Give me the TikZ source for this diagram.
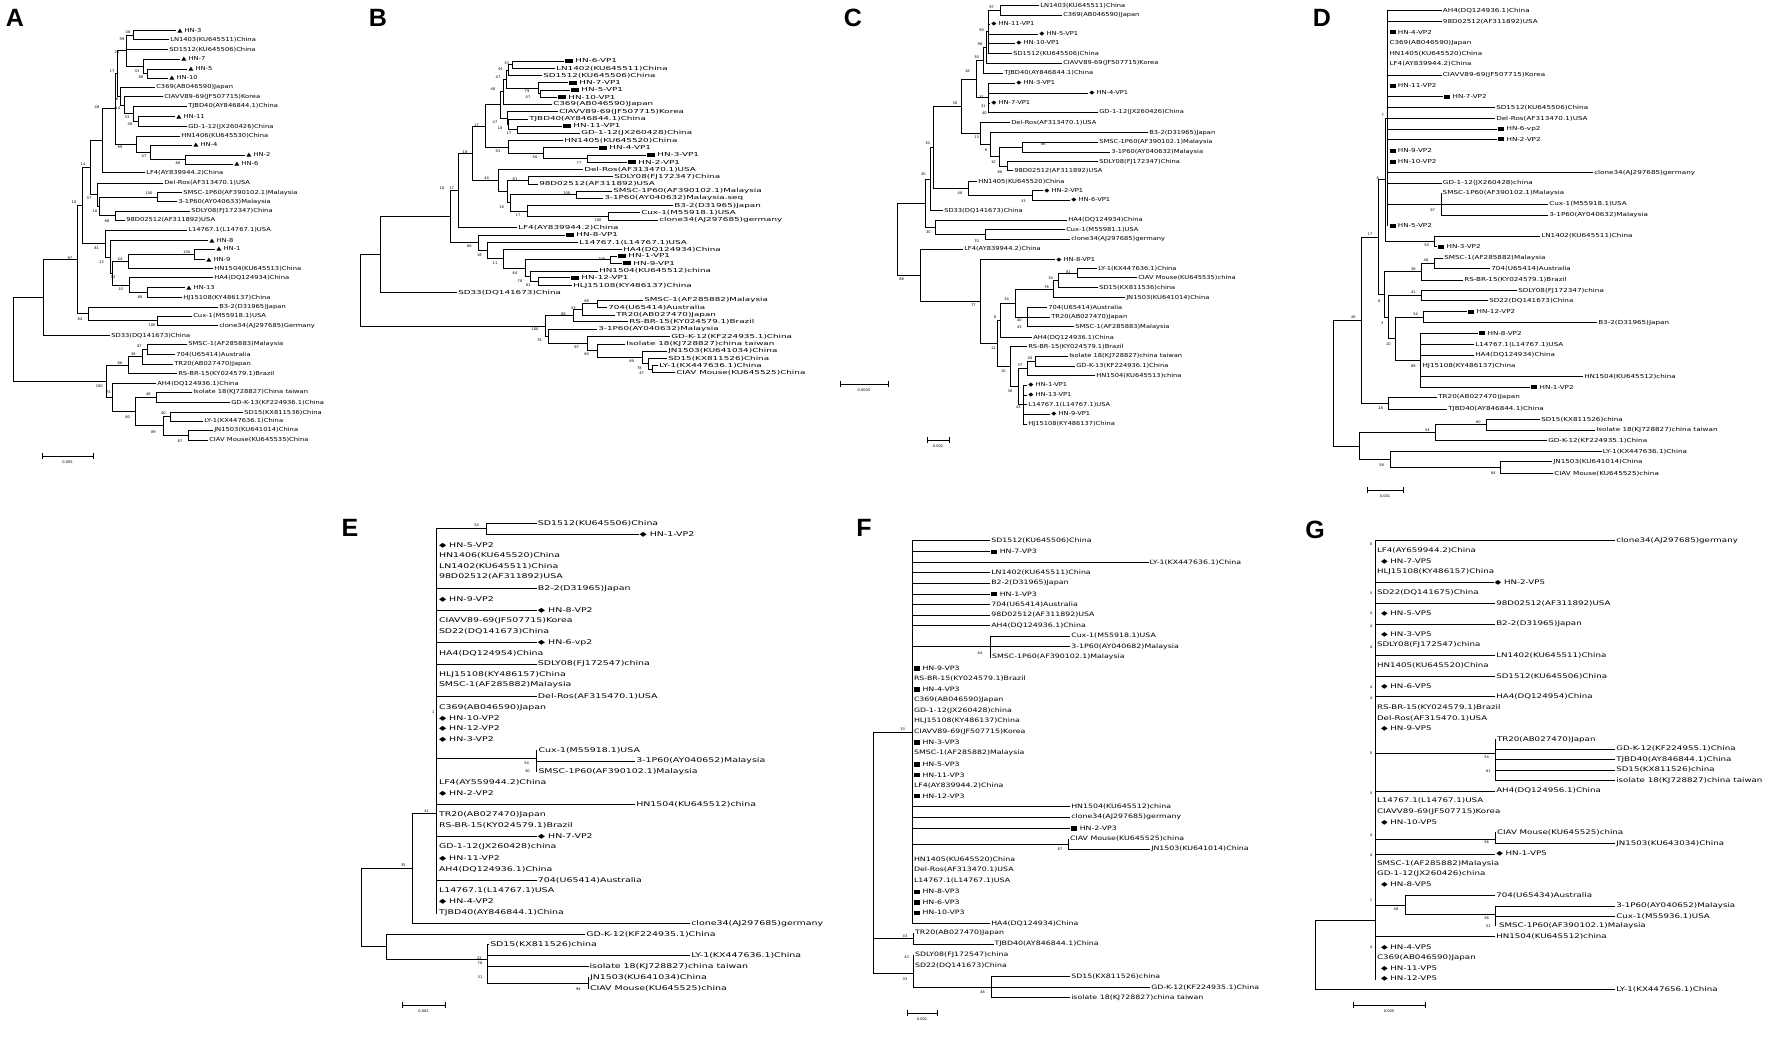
\documentclass[tikz,border=0pt]{standalone}
\usepackage{fontspec}
\usepackage{graphicx}
\setmainfont{DejaVu Sans}
\newfontfamily\arialf{Liberation Sans}
\tikzset{
  br/.style={line width=0.9pt, line cap=rect},
  lab/.style={anchor=west, inner sep=0.8pt, font=\labf},
  bsl/.style={inner sep=0pt, font=\fontsize{3.6}{4}\selectfont},
  plab/.style={inner sep=0pt, font=\arialf\bfseries\fontsize{25}{25}\selectfont},
  sclab/.style={inner sep=0pt, font=\fontsize{3.6}{4}\selectfont}
}
\def\labf{\fontsize{5.5}{6}\selectfont}
\def\hs{1.23}
\newcommand\rect{\rule[-0.2pt]{4.6pt}{4.2pt}}
\newcommand\Lf[4]{\draw[br] (#1,#3) -- (#2,#3) node[lab]{\scalebox{\hs}[1]{#4}};}
\newcommand\Tx[3]{\node[lab] at (#1,#2) {\scalebox{\hs}[1]{#3}};}
\newcommand\Vt[3]{\draw[br] (#1,#2) -- (#1,#3);}
\newcommand\Hz[3]{\draw[br] (#1,#3) -- (#2,#3);}
\newcommand\Bs[3]{\node[bsl] at (#1,#2) {#3};}
\newcommand\Sbar[4]{\draw[br] (#1,#3) -- (#2,#3); \draw[br] (#1,#3-2.5) -- (#1,#3+2.5); \draw[br] (#2,#3-2.5) -- (#2,#3+2.5); \node[sclab] at ({(#1+#2)/2},#3+6) {#4};}
\begin{document}
\begin{tikzpicture}[x=1pt,y=-1pt]
\useasboundingbox[fill=white] (0,0) rectangle (1772,1064);
% ================= A =================
\node[plab] (labA) at (15,18) {A};
\begin{scope}
\def\labf{\fontsize{5.5}{6}\selectfont}\def\hs{1.23}
\Lf{133}{176}{30.7}{▲ HN-3}
\Lf{133}{169}{39.3}{LN1403(KU645511)China}
\Vt{133}{30.7}{39.3}\Hz{126}{133}{35}
\Lf{126}{168}{49.3}{SD1512(KU645506)China}
\Lf{143}{180}{59.3}{▲ HN-7}
\Lf{147}{187}{69}{▲ HN-5}
\Lf{147}{168}{78.3}{▲ HN-10}
\Vt{147}{69}{78.3}\Hz{143}{147}{73.7}
\Vt{143}{59.3}{73.7}\Hz{126}{143}{66.5}
\Vt{126}{35}{66.5}\Hz{117}{126}{50.7}
\Lf{120}{155}{87.3}{C369(AB046590)Japan}
\Lf{124}{163}{96.7}{CIAVV89-69(JF507715)Korea}
\Lf{133}{187}{106}{TJBD40(AY846844.1)China}
\Lf{138}{175}{116.7}{▲ HN-11}
\Lf{138}{187}{126.7}{GD-1-12(JX260426)China}
\Vt{138}{116.7}{126.7}\Hz{133}{138}{121.7}
\Vt{133}{106}{121.7}\Hz{124}{133}{113.8}
\Vt{124}{96.7}{113.8}\Hz{120}{124}{105.3}
\Vt{120}{87.3}{105.3}\Hz{117}{120}{96.3}
\Vt{117}{50.7}{96.3}\Hz{115}{117}{73.5}
\Lf{136}{180}{136}{HN1406(KU645530)China}
\Lf{150}{192}{145}{▲ HN-4}
\Lf{185}{245}{155}{▲ HN-2}
\Lf{185}{233}{164}{▲ HN-6}
\Vt{185}{155}{164}\Hz{150}{185}{159.5}
\Vt{150}{145}{159.5}\Hz{136}{150}{152.3}
\Vt{136}{136}{152.3}\Hz{115}{136}{144}
\Vt{115}{73.5}{144}\Hz{102}{115}{108.8}
\Lf{102}{145}{172.7}{LF4(AY839944.2)China}
\Vt{102}{108.8}{172.7}\Hz{90}{102}{140.7}
\Lf{97}{163}{183}{Del-Ros(AF313470.1)USA}
\Lf{157}{182}{192.7}{SMSC-1P60(AF390102.1)Malaysia}
\Lf{157}{177}{201.7}{3-1P60(AY040633)Malaysia}
\Vt{157}{192.7}{201.7}\Hz{99}{157}{197.2}
\Lf{115}{190}{211}{SDLY08(FJ172347)China}
\Lf{115}{125}{220}{98D02512(AF311892)USA}
\Vt{115}{211}{220}\Hz{99}{115}{215.5}
\Vt{99}{197.2}{215.5}\Hz{97}{99}{206.4}
\Vt{97}{183}{206.4}\Hz{90}{97}{194.7}
\Vt{90}{140.7}{194.7}\Hz{82}{90}{167.7}
\Lf{105}{187}{230}{L14767.1(L14767.1)USA}
\Lf{110}{208}{240.7}{▲ HN-8}
\Lf{194}{215}{249.3}{▲ HN-1}
\Lf{194}{205}{259.3}{▲ HN-9}
\Vt{194}{249.3}{259.3}\Hz{128}{194}{254.3}
\Lf{128}{213}{268.7}{HN1504(KU645513)China}
\Vt{128}{254.3}{268.7}\Hz{112}{128}{261.5}
\Lf{129}{213}{277.7}{HA4(DQ124934)China}
\Lf{147}{185}{287.3}{▲ HN-13}
\Lf{147}{182}{297.7}{HJ15108(KY486137)China}
\Vt{147}{287.3}{297.7}\Hz{129}{147}{292.5}
\Vt{129}{277.7}{292.5}\Hz{112}{129}{285.1}
\Vt{112}{261.5}{285.1}\Hz{110}{112}{273.3}
\Vt{110}{240.7}{273.3}\Hz{105}{110}{257}
\Vt{105}{230}{257}\Hz{82}{105}{243.5}
\Vt{82}{167.7}{243.5}\Hz{77}{82}{205.6}
\Lf{88}{218}{307}{B3-2(D31965)Japan}
\Lf{157}{192}{316}{Cux-1(M55918.1)USA}
\Lf{157}{218}{325.7}{clone34(AJ297685)Germany}
\Vt{157}{316}{325.7}\Hz{88}{157}{320.8}
\Vt{88}{307}{320.8}\Hz{77}{88}{313.9}
\Vt{77}{205.6}{313.9}\Hz{43}{77}{259.8}
\Lf{43}{110}{335.7}{SD33(DQ141673)China}
\Vt{43}{259.8}{335.7}\Hz{13}{43}{297.7}
\Lf{147}{187}{344.3}{SMSC-1(AF285883)Malaysia}
\Lf{147}{175}{354.3}{704(U65414)Australia}
\Vt{147}{344.3}{354.3}\Hz{142}{147}{349.3}
\Lf{142}{173}{364}{TR20(AB027470)Japan}
\Vt{142}{349.3}{364}\Hz{128}{142}{356.7}
\Lf{128}{177}{373.3}{RS-BR-15(KY024579.1)Brazil}
\Vt{128}{356.7}{373.3}\Hz{106}{128}{365}
\Lf{112}{156}{383.3}{AH4(DQ124936.1)China}
\Lf{156}{192}{392.3}{Isolate 18(KJ728827)China taiwan}
\Lf{156}{230}{402.7}{GD-K-13(KF224936.1)China}
\Vt{156}{392.3}{402.7}\Hz{135}{156}{397.5}
\Lf{170}{243}{412.3}{SD15(KX811536)China}
\Lf{170}{203}{421}{LY-1(KX447636.1)China}
\Vt{170}{412.3}{421}\Hz{163}{170}{416.7}
\Lf{188}{213}{430}{JN1503(KU641014)China}
\Lf{188}{208}{440}{CIAV Mouse(KU645535)China}
\Vt{188}{430}{440}\Hz{163}{188}{435}
\Vt{163}{416.7}{435}\Hz{135}{163}{425.8}
\Vt{135}{397.5}{425.8}\Hz{112}{135}{411.7}
\Vt{112}{383.3}{411.7}\Hz{106}{112}{397.5}
\Vt{106}{365}{397.5}\Hz{13}{106}{381.3}
\Vt{13}{297.7}{381.3}
\Sbar{42}{93}{456}{0.005}
\Bs{128}{32.3}{48}\Bs{122}{39}{99}\Bs{117}{51.7}{21}\Bs{137}{71}{33}\Bs{141}{77.3}{88}
\Bs{112}{70.7}{17}\Bs{117}{99}{8}\Bs{118}{108}{14}\Bs{127}{117}{33}\Bs{130}{124}{48}
\Bs{120}{146.7}{99}\Bs{144}{156}{47}\Bs{178}{163.3}{88}\Bs{97}{107}{48}\Bs{83}{164}{14}
\Bs{89}{198}{37}\Bs{149}{193}{100}\Bs{95}{211}{10}\Bs{107}{221}{88}\Bs{74}{202}{10}
\Bs{96.7}{248.3}{81}\Bs{70}{258.3}{97}\Bs{186.7}{252}{100}\Bs{120}{258.7}{44}\Bs{113}{276.7}{33}
\Bs{101.7}{261.7}{22}\Bs{120.7}{289.3}{10}\Bs{140}{296.7}{88}\Bs{80}{319.3}{84}\Bs{152}{325}{100}
\Bs{139.3}{346}{87}\Bs{133.3}{354}{36}\Bs{120}{362.7}{86}\Bs{99.3}{385.7}{100}\Bs{108.3}{392.3}{73}
\Bs{148.3}{394.3}{46}\Bs{127.7}{417.3}{80}\Bs{163.3}{413.3}{40}\Bs{153.3}{431.7}{89}\Bs{180}{440.7}{87}
\end{scope}
% ================= B =================
\node[plab] (labB) at (378,18) {B};
\begin{scope}
\def\labf{\fontsize{5.5}{6}\selectfont}\def\hs{1.6}
\Lf{512.7}{564}{61}{\rect\ HN-6-VP1}
\Lf{512.7}{555}{68.3}{LN1402(KU645511)China}
\Vt{512.7}{61}{68.3}\Hz{508}{512.7}{64.7}
\Lf{508}{542}{75.7}{SD1512(KU645506)China}
\Vt{508}{64.7}{75.7}\Hz{506}{508}{70.2}
\Lf{538}{568}{82.7}{\rect\ HN-7-VP1}
\Lf{540}{570}{90}{\rect\ HN-5-VP1}
\Lf{540}{557}{97.3}{\rect\ HN-10-VP1}
\Vt{540}{90}{97.3}\Hz{538}{540}{93.7}
\Vt{538}{82.7}{93.7}\Hz{506}{538}{88.2}
\Vt{506}{70.2}{88.2}\Hz{503}{506}{79.2}
\Lf{503}{552}{104.3}{C369(AB046590)Japan}
\Vt{503}{79.2}{104.3}\Hz{500}{503}{91.8}
\Lf{507}{558}{111.7}{CIAVV89-69(JF507715)Korea}
\Lf{508}{528}{119}{TJBD40(AY846844.1)China}
\Lf{517}{562}{126}{\rect\ HN-11-VP1}
\Lf{517}{580}{133.3}{GD-1-12(JX260428)China}
\Vt{517}{126}{133.3}\Hz{508}{517}{129.7}
\Vt{508}{119}{129.7}\Hz{507}{508}{124.3}
\Vt{507}{111.7}{124.3}\Hz{500}{507}{118}
\Vt{500}{91.8}{118}\Hz{485}{500}{104.9}
\Lf{508}{563}{140.7}{HN1405(KU645520)China}
\Lf{543}{598}{147.7}{\rect\ HN-4-VP1}
\Lf{587}{646}{155}{\rect\ HN-3-VP1}
\Lf{587}{627}{162.3}{\rect\ HN-2-VP1}
\Vt{587}{155}{162.3}\Hz{543}{587}{158.7}
\Vt{543}{147.7}{158.7}\Hz{508}{543}{153.2}
\Vt{508}{140.7}{153.2}\Hz{485}{508}{147}
\Vt{485}{104.9}{147}\Hz{472}{485}{126}
\Lf{498}{583}{169.3}{Del-Ros(AF313470.1)USA}
\Lf{528}{613}{176.7}{SDLY08(FJ172347)China}
\Lf{528}{538}{184}{98D02512(AF311892)USA}
\Vt{528}{176.7}{184}\Hz{507}{528}{180.4}
\Lf{576}{612}{191}{SMSC-1P60(AF390102.1)Malaysia}
\Lf{576}{603}{198.3}{3-1P60(AY040632)Malaysia.seq}
\Vt{576}{191}{198.3}\Hz{510}{576}{194.7}
\Lf{527}{673}{205.7}{B3-2(D31965)Japan}
\Lf{608}{640}{212.7}{Cux-1(M55918.1)USA}
\Lf{608}{658}{220}{clone34(AJ297685)germany}
\Vt{608}{212.7}{220}\Hz{527}{608}{216.3}
\Vt{527}{205.7}{216.3}\Hz{510}{527}{211}
\Vt{510}{194.7}{211}\Hz{507}{510}{202.9}
\Vt{507}{180.4}{202.9}\Hz{498}{507}{191.6}
\Vt{498}{169.3}{191.6}\Hz{472}{498}{180.5}
\Vt{472}{126}{180.5}\Hz{458}{472}{153.2}
\Lf{458}{517}{227.7}{LF4(AY839944.2)China}
\Vt{458}{153.2}{227.7}\Hz{450}{458}{190.5}
\Lf{478}{565}{235}{\rect\ HN-8-VP1}
\Lf{487}{578}{242.3}{L14767.1(L14767.1)USA}
\Lf{503}{622}{249.3}{HA4(DQ124934)China}
\Lf{610}{617}{256}{\rect\ HN-1-VP1}
\Lf{610}{622}{263.3}{\rect\ HN-9-VP1}
\Vt{610}{256}{263.3}\Hz{525}{610}{259.7}
\Lf{530}{598}{271}{HN1504(KU645512)china}
\Lf{538}{570}{277.7}{\rect\ HN-12-VP1}
\Lf{538}{572}{285.7}{HLJ15108(KY486137)China}
\Vt{538}{277.7}{285.7}\Hz{530}{538}{281.7}
\Vt{530}{271}{281.7}\Hz{525}{530}{276.3}
\Vt{525}{259.7}{276.3}\Hz{503}{525}{268}
\Vt{503}{249.3}{268}\Hz{487}{503}{258.7}
\Vt{487}{242.3}{258.7}\Hz{478}{487}{250.5}
\Vt{478}{235}{250.5}\Hz{450}{478}{242.7}
\Vt{450}{190.5}{242.7}\Hz{380}{450}{216.6}
\Lf{380}{457}{292.7}{SD33(DQ141673)China}
\Vt{380}{216.6}{292.7}\Hz{360}{380}{254.7}
\Lf{597}{643}{300}{SMSC-1(AF285882)Malaysia}
\Lf{597}{607}{307.3}{704(U65414)Australia}
\Vt{597}{300}{307.3}\Hz{582}{597}{303.7}
\Lf{582}{615}{315}{TR20(AB027470)Japan}
\Vt{582}{303.7}{315}\Hz{573}{582}{309.3}
\Lf{573}{628}{321.7}{RS-BR-15(KY024579.1)Brazil}
\Vt{573}{309.3}{321.7}\Hz{545}{573}{315.5}
\Lf{548}{597}{329.3}{3-1P60(AY040632)Malaysia}
\Lf{587}{670}{336.7}{GD-K-12(KF224935.1)China}
\Lf{597}{625}{344}{Isolate 18(KJ728827)china taiwan}
\Lf{642}{667}{351}{JN1503(KU641034)China}
\Lf{648}{667}{358.3}{SD15(KX811526)China}
\Lf{652}{658}{365.7}{LY-1(KX447636.1)China}
\Lf{652}{675}{372.7}{CIAV Mouse(KU645525)China}
\Vt{652}{365.7}{372.7}\Hz{648}{652}{369.2}
\Vt{648}{358.3}{369.2}\Hz{642}{648}{363.8}
\Vt{642}{351}{363.8}\Hz{597}{642}{357.4}
\Vt{597}{344}{357.4}\Hz{587}{597}{350.7}
\Vt{587}{336.7}{350.7}\Hz{548}{587}{343.7}
\Vt{548}{329.3}{343.7}\Hz{545}{548}{336.5}
\Vt{545}{315.5}{336.5}\Hz{360}{545}{326}
\Vt{360}{254.7}{326}
\Sbar{840}{888}{384}{0.0005}
\Bs{506.7}{62.7}{33}\Bs{500.7}{69.3}{91}\Bs{498}{76.7}{47}\Bs{527}{90.7}{79}\Bs{528}{97.3}{47}
\Bs{493}{89.3}{48}\Bs{509}{132.7}{17}\Bs{500}{127.7}{18}\Bs{495}{121.7}{47}\Bs{476.7}{125}{17}
\Bs{579}{163.3}{77}\Bs{535}{156.7}{50}\Bs{498}{150.7}{91}\Bs{515}{179.3}{81}\Bs{566.7}{192.7}{100}
\Bs{598}{220}{100}\Bs{518}{215}{17}\Bs{501.7}{206.7}{18}\Bs{486.7}{178.3}{44}\Bs{465}{151.7}{18}
\Bs{451.7}{188.3}{17}\Bs{469.3}{246}{66}\Bs{479.3}{255}{18}\Bs{495}{263.3}{11}\Bs{515}{272.7}{64}
\Bs{520}{280.7}{78}\Bs{528.3}{285}{61}\Bs{601.7}{259.3}{100}\Bs{586.7}{301}{88}\Bs{573.3}{307.7}{53}
\Bs{563.3}{314}{88}\Bs{535}{329.3}{100}\Bs{539.3}{340}{78}\Bs{576.7}{346.7}{97}\Bs{586.7}{354.3}{80}
\Bs{631.7}{361}{89}\Bs{639.3}{367.7}{78}\Bs{641.7}{373.3}{47}\Bs{442}{188}{18}
\end{scope}
% ================= C =================
\node[plab] (labC) at (853,18) {C};
\begin{scope}
\def\labf{\fontsize{5.5}{6}\selectfont}\def\hs{1.22}
\Lf{1000.7}{1039}{5.7}{LN1403(KU645511)China}
\Lf{1000.7}{1062}{15}{C369(AB046590)Japan}
\Vt{1000.7}{5.7}{15}\Hz{988}{1000.7}{10.3}
\Lf{988}{990}{24.3}{◆ HN-11-VP1}
\Lf{988}{1038}{34.3}{◆ HN-5-VP1}
\Lf{988}{1015}{43.3}{◆ HN-10-VP1}
\Lf{988}{1012}{53.3}{SD1512(KU645506)China}
\Vt{988}{10.3}{53.3}\Hz{986}{988}{31.8}
\Lf{986}{1062}{63.3}{CIAVV89-69(JF507715)Korea}
\Vt{986}{31.8}{63.3}\Hz{983}{986}{47.6}
\Lf{983}{1003}{73.3}{TJBD40(AY846844.1)China}
\Vt{983}{47.6}{73.3}\Hz{976}{983}{60.5}
\Lf{988}{1015}{83.3}{◆ HN-3-VP1}
\Lf{988}{1088}{93.3}{◆ HN-4-VP1}
\Lf{988}{990}{103.3}{◆ HN-7-VP1}
\Lf{988}{1098}{112.3}{GD-1-12(JX260426)China}
\Vt{988}{83.3}{112.3}\Hz{976}{988}{97.8}
\Vt{976}{60.5}{97.8}\Hz{961}{976}{79.2}
\Lf{980}{1010}{122.7}{Del-Ros(AF313470.1)USA}
\Lf{990}{1148}{132.7}{B3-2(D31965)Japan}
\Lf{1022}{1098}{142.3}{SMSC-1P60(AF390102.1)Malaysia}
\Lf{1022}{1110}{152.3}{3-1P60(AY040632)Malaysia}
\Vt{1022}{142.3}{152.3}\Hz{999}{1022}{147.3}
\Lf{1007}{1098}{161.7}{SDLY08(FJ172347)China}
\Lf{1007}{1013}{170.7}{98D02512(AF311892)USA}
\Vt{1007}{161.7}{170.7}\Hz{999}{1007}{166.2}
\Vt{999}{147.3}{166.2}\Hz{990}{999}{156.8}
\Vt{990}{132.7}{156.8}\Hz{980}{990}{144.7}
\Vt{980}{122.7}{144.7}\Hz{961}{980}{133.7}
\Vt{961}{79.2}{133.7}\Hz{933}{961}{106.5}
\Lf{968}{977}{181.7}{HN1405(KU645520)China}
\Lf{1032}{1043}{190.7}{◆ HN-2-VP1}
\Lf{1032}{1070}{200}{◆ HN-6-VP1}
\Vt{1032}{190.7}{200}\Hz{968}{1032}{195.3}
\Vt{968}{181.7}{195.3}\Hz{933}{968}{188.5}
\Vt{933}{106.5}{188.5}\Hz{930}{933}{147.5}
\Lf{930}{943}{210.7}{SD33(DQ141673)China}
\Vt{930}{147.5}{210.7}\Hz{925}{930}{179.1}
\Lf{935}{1067}{220}{HA4(DQ124934)China}
\Lf{985}{1065}{229.3}{Cux-1(M55981.1)USA}
\Lf{985}{1070}{239.3}{clone34(AJ297685)germany}
\Vt{985}{229.3}{239.3}\Hz{935}{985}{234.3}
\Vt{935}{220}{234.3}\Hz{925}{935}{227.2}
\Vt{925}{179.1}{227.2}\Hz{897}{925}{203.1}
\Lf{920}{963}{249}{LF4(AY839944.2)China}
\Lf{980}{1055}{259.3}{◆ HN-8-VP1}
\Lf{1077}{1097}{268.3}{LY-1(KX447636.1)China}
\Lf{1077}{1137}{277.7}{CIAV Mouse(KU645535)china}
\Vt{1077}{268.3}{277.7}\Hz{1058}{1077}{273}
\Lf{1058}{1098}{287.7}{SD15(KX811536)china}
\Vt{1058}{273}{287.7}\Hz{1053}{1058}{280.3}
\Lf{1053}{1125}{297.7}{JN1503(KU641014)China}
\Vt{1053}{280.3}{297.7}\Hz{1015}{1053}{289}
\Lf{1027}{1047}{307.3}{704(U65414)Australia}
\Lf{1027}{1050}{317.3}{TR20(AB027470)Japan}
\Lf{1027}{1074}{326.7}{SMSC-1(AF285883)Malaysia}
\Vt{1027}{307.3}{326.7}\Hz{1015}{1027}{317}
\Vt{1015}{289}{317}\Hz{1000}{1015}{303}
\Lf{1000}{1032}{337.3}{AH4(DQ124936.1)China}
\Vt{1000}{303}{337.3}\Hz{997}{1000}{320.2}
\Lf{1010}{1027}{346.7}{RS-BR-15(KY024579.1)Brazil}
\Lf{1035}{1068}{356}{Isolate 18(KJ728827)china taiwan}
\Lf{1035}{1075}{366}{GD-K-13(KF224936.1)China}
\Vt{1035}{356}{366}\Hz{1027}{1035}{361}
\Lf{1027}{1095}{375.7}{HN1504(KU645513)china}
\Vt{1027}{361}{375.7}\Hz{1018}{1027}{368.3}
\Lf{1023}{1027}{385}{◆ HN-1-VP1}
\Lf{1023}{1027}{395}{◆ HN-13-VP1}
\Lf{1023}{1027}{404.3}{L14767.1(L14767.1)USA}
\Lf{1023}{1050}{414}{◆ HN-9-VP1}
\Lf{1023}{1027}{424}{HJ15108(KY486137)China}
\Vt{1023}{385}{424}\Hz{1018}{1023}{404.5}
\Vt{1018}{368.3}{404.5}\Hz{1010}{1018}{386.4}
\Vt{1010}{346.7}{386.4}\Hz{997}{1010}{366.5}
\Vt{997}{320.2}{366.5}\Hz{980}{997}{343.4}
\Vt{980}{259.3}{343.4}\Hz{920}{980}{301.3}
\Vt{920}{249}{301.3}\Hz{897}{920}{275.2}
\Vt{897}{203.1}{275.2}
\Sbar{927}{949}{440}{0.002}
\Bs{991.7}{7.3}{97}\Bs{981.7}{30}{93}\Bs{980}{44}{98}\Bs{976.7}{57.3}{30}\Bs{967.3}{71}{18}
\Bs{981.7}{97.3}{31}\Bs{983.3}{106}{31}\Bs{984.3}{113.3}{40}\Bs{955}{102.7}{30}\Bs{1043.3}{144}{86}
\Bs{1000}{171.7}{86}\Bs{993.3}{162.3}{10}\Bs{986}{150}{8}\Bs{976.7}{136.7}{13}\Bs{960}{192.7}{48}
\Bs{1023.3}{200.7}{33}\Bs{927.7}{143.3}{30}\Bs{923.3}{174}{30}\Bs{976.7}{240.7}{70}\Bs{928.3}{231.7}{30}
\Bs{1068.3}{271.7}{81}\Bs{1050.7}{278.3}{34}\Bs{1046.7}{287.3}{76}\Bs{1019.3}{320}{40}\Bs{1019.3}{327.3}{43}
\Bs{1006.7}{299}{34}\Bs{995}{316.7}{8}\Bs{1030}{357.7}{40}\Bs{1020}{365}{37}\Bs{1018.3}{406.7}{43}
\Bs{1010}{390.7}{36}\Bs{1003.3}{370.7}{10}\Bs{993.3}{347.7}{12}\Bs{973.3}{305}{77}\Bs{901.7}{279.3}{88}
\end{scope}
% ================= D =================
\node[plab] (labD) at (1322,18) {D};
\begin{scope}
\def\labf{\fontsize{5.5}{6}\selectfont}\def\hs{1.31}
\Lf{1387.7}{1441.7}{10.7}{AH4(DQ124936.1)China}
\Lf{1387.7}{1441.7}{21.7}{98D02512(AF311892)USA}
\Tx{1388.5}{32.3}{\rect\ HN-4-VP2}
\Tx{1388.5}{42.7}{C369(AB046590)Japan}
\Tx{1388.5}{53.3}{HN1405(KU645520)China}
\Tx{1388.5}{64}{LF4(AY839944.2)China}
\Lf{1387.7}{1441.7}{75}{CIAVV89-69(JF507715)Korea}
\Tx{1388.5}{86}{\rect\ HN-11-VP2}
\Lf{1387.7}{1443}{96.7}{\rect\ HN-7-VP2}
\Lf{1387.7}{1495}{107.3}{SD1512(KU645506)China}
\Lf{1387.7}{1495}{118.3}{Del-Ros(AF313470.1)USA}
\Lf{1387.7}{1497}{129.3}{\rect\ HN-6-vp2}
\Lf{1387.7}{1497}{139.3}{\rect\ HN-2-VP2}
\Tx{1388.5}{150.7}{\rect\ HN-9-VP2}
\Tx{1388.5}{161.7}{\rect\ HN-10-VP2}
\Lf{1387.7}{1593}{172.7}{clone34(AJ297685)germany}
\Lf{1387.7}{1441.7}{183.3}{GD-1-12(JX260428)china}
\Hz{1387.7}{1441.7}{204}
\Tx{1441.7}{193.3}{SMSC-1P60(AF390102.1)Malaysia}
\Lf{1441.7}{1548}{204}{Cux-1(M55918.1)USA}
\Lf{1441.7}{1548}{215}{3-1P60(AY040632)Malaysia}
\Vt{1441.7}{193.3}{215}
\Tx{1388.5}{226}{\rect\ HN-5-VP2}
\Vt{1387.7}{10.7}{226}\Hz{1385}{1387.7}{118.3}
\Lf{1434}{1540}{236}{LN1402(KU645511)China}
\Lf{1434}{1437}{246.7}{\rect\ HN-3-VP2}
\Vt{1434}{236}{246.7}\Hz{1385}{1434}{241.3}
\Vt{1385}{118.3}{241.3}\Hz{1378}{1385}{179.8}
\Lf{1434}{1443}{258.3}{SMSC-1(AF285882)Malaysia}
\Lf{1434}{1490}{268.3}{704(U65414)Australia}
\Vt{1434}{258.3}{268.3}\Hz{1421.7}{1434}{263.3}
\Lf{1421.7}{1463}{280}{RS-BR-15(KY024579.1)Brazil}
\Vt{1421.7}{263.3}{280}\Hz{1384}{1421.7}{271.7}
\Lf{1421.7}{1517}{290.7}{SDLY08(FJ172347)china}
\Lf{1421.7}{1488}{300.7}{SD22(DQ141673)China}
\Vt{1421.7}{290.7}{300.7}\Hz{1388}{1421.7}{295.7}
\Lf{1423}{1467}{311.7}{\rect\ HN-12-VP2}
\Lf{1423}{1597}{322.7}{B3-2(D31965)Japan}
\Vt{1423}{311.7}{322.7}\Hz{1395.7}{1423}{317.2}
\Lf{1420.7}{1478}{333.3}{\rect\ HN-8-VP2}
\Lf{1420.7}{1474}{344.3}{L14767.1(L14767.1)USA}
\Lf{1420.7}{1474}{355}{HA4(DQ124934)China}
\Tx{1421.5}{365.7}{HJ15108(KY486137)China}
\Lf{1420.7}{1583}{376.7}{HN1504(KU645512)china}
\Lf{1420.7}{1530}{387.3}{\rect\ HN-1-VP2}
\Vt{1420.7}{333.3}{387.3}\Hz{1395.7}{1420.7}{360.3}
\Vt{1395.7}{317.2}{360.3}\Hz{1388}{1395.7}{338.8}
\Vt{1388}{295.7}{338.8}\Hz{1384}{1388}{317.2}
\Vt{1384}{271.7}{317.2}\Hz{1378}{1384}{294.5}
\Vt{1378}{179.8}{294.5}\Hz{1361}{1378}{237.2}
\Lf{1388}{1437}{397.3}{TR20(AB027470)Japan}
\Lf{1388}{1447}{409}{TJBD40(AY846844.1)China}
\Vt{1388}{397.3}{409}\Hz{1361}{1388}{403.2}
\Vt{1361}{237.2}{403.2}\Hz{1333.3}{1361}{320.2}
\Lf{1486}{1540}{419.3}{SD15(KX811526)china}
\Lf{1486}{1595}{430}{Isolate 18(KJ728827)china taiwan}
\Vt{1486}{419.3}{430}\Hz{1435}{1486}{424.7}
\Lf{1435}{1547}{440.7}{GD-K-12(KF224935.1)China}
\Vt{1435}{424.7}{440.7}\Hz{1359}{1435}{432.7}
\Lf{1390.7}{1601.7}{451.7}{LY-1(KX447636.1)China}
\Lf{1500}{1552}{461.7}{JN1503(KU641014)China}
\Lf{1500}{1553}{473.3}{CIAV Mouse(KU645525)china}
\Vt{1500}{461.7}{473.3}\Hz{1390.7}{1500}{467.5}
\Vt{1390.7}{451.7}{467.5}\Hz{1359}{1390.7}{459.6}
\Vt{1359}{432.7}{459.6}\Hz{1333.3}{1359}{446.2}
\Vt{1333.3}{320.2}{446.2}
\Sbar{1367}{1403}{490}{0.001}
\Bs{1426.7}{245}{50}\Bs{1426}{260}{48}\Bs{1413.3}{269}{36}\Bs{1413.3}{292.3}{41}\Bs{1415.7}{314.3}{54}
\Bs{1388.3}{344}{10}\Bs{1382.3}{323.3}{3}\Bs{1379.3}{300.7}{8}\Bs{1413.3}{366}{88}\Bs{1370}{234}{17}
\Bs{1380.7}{408.3}{28}\Bs{1353.3}{317.3}{26}\Bs{1478.3}{421.7}{60}\Bs{1427.3}{430}{54}\Bs{1381.7}{465}{58}
\Bs{1493.3}{472.7}{84}\Bs{1382.7}{115}{7}\Bs{1377.7}{177.7}{6}\Bs{1432.7}{210}{97}
\end{scope}
% ================= E =================
\node[plab] (labE) at (350,528) {E};
\begin{scope}
\def\labf{\fontsize{6.5}{7}\selectfont}\def\hs{1.45}
\Lf{486}{536.7}{523.3}{SD1512(KU645506)China}
\Lf{486}{638.3}{534.3}{◆ HN-1-VP2}
\Vt{486}{523.3}{534.3}\Hz{436.7}{486}{528.8}
\Tx{438}{545}{◆ HN-5-VP2}
\Tx{438}{555.7}{HN1406(KU645520)China}
\Tx{438}{566.7}{LN1402(KU645511)China}
\Tx{438}{576.7}{98D02512(AF311892)USA}
\Lf{436.7}{536.7}{588.3}{B2-2(D31965)Japan}
\Tx{438}{599.3}{◆ HN-9-VP2}
\Lf{436.7}{536.7}{610}{◆ HN-8-VP2}
\Tx{438}{620.7}{CIAVV89-69(JF507715)Korea}
\Tx{438}{631}{SD22(DQ141673)China}
\Lf{436.7}{536.7}{642.7}{◆ HN-6-vp2}
\Tx{438}{653.3}{HA4(DQ124954)China}
\Lf{436.7}{536.7}{664}{SDLY08(FJ172547)china}
\Tx{438}{674.3}{HLJ15108(KY486157)China}
\Tx{438}{685}{SMSC-1(AF285882)Malaysia}
\Lf{436.7}{536.7}{696.7}{Del-Ros(AF315470.1)USA}
\Tx{438}{707.3}{C369(AB046590)Japan}
\Tx{438}{718.3}{◆ HN-10-VP2}
\Tx{438}{728.3}{◆ HN-12-VP2}
\Tx{438}{739.3}{◆ HN-3-VP2}
\Hz{436.7}{536.7}{758.3}
\Vt{536.7}{750}{771.7}
\Tx{537.5}{750}{Cux-1(M55918.1)USA}
\Lf{536.7}{635}{761}{3-1P60(AY040652)Malaysia}
\Tx{537.5}{771.7}{SMSC-1P60(AF390102.1)Malaysia}
\Tx{438}{782.7}{LF4(AY559944.2)China}
\Tx{438}{793.3}{◆ HN-2-VP2}
\Lf{436.7}{635}{804.3}{HN1504(KU645512)china}
\Tx{438}{815}{TR20(AB027470)Japan}
\Tx{438}{825.7}{RS-BR-15(KY024579.1)Brazil}
\Lf{436.7}{536.7}{836.7}{◆ HN-7-VP2}
\Tx{438}{846.7}{GD-1-12(JX260428)china}
\Tx{438}{858.3}{◆ HN-11-VP2}
\Tx{438}{869}{AH4(DQ124936.1)China}
\Lf{436.7}{536.7}{880}{704(U65414)Australia}
\Tx{438}{890}{L14767.1(L14767.1)USA}
\Tx{438}{901}{◆ HN-4-VP2}
\Tx{438}{912.3}{TJBD40(AY846844.1)China}
\Vt{436.7}{528.8}{914}\Hz{412.3}{436.7}{813.3}
\Lf{412.3}{690}{923.3}{clone34(AJ297685)germany}
\Vt{412.3}{813.3}{923.3}\Hz{361.7}{412.3}{868.3}
\Lf{386.7}{585}{934}{GD-K-12(KF224935.1)China}
\Lf{487.3}{489}{944.3}{SD15(KX811526)china}
\Lf{487.3}{690}{955}{LY-1(KX447636.1)China}
\Lf{487.3}{588.3}{966.7}{isolate 18(KJ728827)china taiwan}
\Tx{589}{977.7}{JN1503(KU641034)China}
\Tx{589}{988.3}{CIAV Mouse(KU645525)china}
\Vt{588.3}{977.7}{988.3}\Hz{487.3}{588.3}{983}
\Vt{487.3}{944.3}{983}\Hz{386.7}{487.3}{959.3}
\Vt{386.7}{934}{959.3}\Hz{361.7}{386.7}{946.7}
\Vt{361.7}{868.3}{946.7}
\Sbar{402}{445}{1005}{0.002}
\Bs{476.7}{525}{54}\Bs{433.3}{711.7}{1}\Bs{426.7}{810.7}{41}\Bs{403.3}{865}{35}\Bs{526.7}{763.3}{54}
\Bs{527.3}{770.7}{30}\Bs{479.3}{957.7}{22}\Bs{480}{963.3}{78}\Bs{480}{977.3}{31}\Bs{578.3}{989.3}{94}
\end{scope}
% ================= F =================
\node[plab] (labF) at (864,528) {F};
\begin{scope}
\def\labf{\fontsize{6}{6.5}\selectfont}\def\hs{1.31}
\Lf{912.3}{990}{540.7}{SD1512(KU645506)China}
\Lf{912.3}{990}{551.7}{\rect\ HN-7-VP3}
\Lf{912.3}{1148.3}{562.3}{LY-1(KX447636.1)China}
\Lf{912.3}{990}{572.7}{LN1402(KU645511)China}
\Lf{912.3}{990}{583.3}{B2-2(D31965)Japan}
\Lf{912.3}{990}{594}{\rect\ HN-1-VP3}
\Lf{912.3}{990}{604.3}{704(U65414)Australia}
\Lf{912.3}{990}{615}{98D02512(AF311892)USA}
\Lf{912.3}{990}{625.7}{AH4(DQ124936.1)China}
\Hz{912.3}{990}{646.7}
\Vt{990}{636}{657.3}
\Lf{990}{1070}{636}{Cux-1(M55918.1)USA}
\Lf{990}{1070}{646.7}{3-1P60(AY040682)Malaysia}
\Tx{991}{657.3}{SMSC-1P60(AF390102.1)Malaysia}
\Tx{913}{668.3}{\rect\ HN-9-VP3}
\Tx{913}{678.3}{RS-BR-15(KY024579.1)Brazil}
\Tx{913}{689.3}{\rect\ HN-4-VP3}
\Tx{913}{700}{C369(AB046590)Japan}
\Tx{913}{710.7}{GD-1-12(JX260428)china}
\Tx{913}{721}{HLJ15108(KY486137)China}
\Tx{913}{731.7}{CIAVV89-69(JF507715)Korea}
\Tx{913}{742.3}{\rect\ HN-3-VP3}
\Tx{913}{752.7}{SMSC-1(AF285882)Malaysia}
\Tx{913}{764.3}{\rect\ HN-5-VP3}
\Tx{913}{775}{\rect\ HN-11-VP3}
\Tx{913}{785.7}{LF4(AY839944.2)China}
\Tx{913}{796}{\rect\ HN-12-VP3}
\Lf{912.3}{1070}{806.7}{HN1504(KU645512)china}
\Lf{912.3}{1070}{817.3}{clone34(AJ297685)germany}
\Lf{912.3}{1070}{828.3}{\rect\ HN-2-VP3}
\Hz{912.3}{1068.3}{844}
\Vt{1068.3}{839}{849.3}
\Tx{1069}{839}{CIAV Mouse(KU645525)china}
\Lf{1068.3}{1150}{849.3}{JN1503(KU641014)China}
\Tx{913}{860}{HN1405(KU645520)China}
\Tx{913}{870}{Del-Ros(AF313470.1)USA}
\Tx{913}{880.7}{L14767.1(L14767.1)USA}
\Tx{913}{891.7}{\rect\ HN-8-VP3}
\Tx{913}{902.3}{\rect\ HN-6-VP3}
\Tx{913}{912.7}{\rect\ HN-10-VP3}
\Lf{912.3}{990}{923.3}{HA4(DQ124934)China}
\Vt{912.3}{540.7}{923.3}\Hz{873.3}{912.3}{732.3}
\Vt{913.3}{933.3}{944.3}
\Tx{914}{933.3}{TR20(AB027470)Japan}
\Lf{913.3}{993.3}{944.3}{TJBD40(AY846844.1)China}
\Hz{873.3}{913.3}{938.8}
\Tx{914}{955}{SDLY08(FJ172547)china}
\Tx{914}{965.7}{SD22(DQ141673)China}
\Vt{913.3}{955}{987.3}\Hz{913.3}{991.7}{987.3}
\Lf{991.7}{1070}{976.7}{SD15(KX811526)china}
\Lf{991.7}{1150}{987.3}{GD-K-12(KF224935.1)China}
\Lf{991.7}{1070}{997.7}{isolate 18(KJ728827)china taiwan}
\Vt{991.7}{976.7}{997.7}
\Hz{873.3}{913.3}{973.3}
\Vt{873.3}{732.3}{973.3}
\Sbar{907}{937}{1013}{0.001}
\Bs{902.7}{729.3}{33}\Bs{980}{652.7}{64}\Bs{1060}{849.3}{87}\Bs{905}{936}{43}\Bs{906.7}{957.3}{43}
\Bs{905}{979}{33}\Bs{982.7}{991.7}{46}
\end{scope}
% ================= G =================
\node[plab] (labG) at (1315,530) {G};
\begin{scope}
\def\labf{\fontsize{6.3}{7}\selectfont}\def\hs{1.38}
\Lf{1375}{1615}{540.7}{clone34(AJ297685)germany}
\Tx{1376}{551}{LF4(AY659944.2)China}
\Tx{1380}{561.7}{◆ HN-7-VP5}
\Tx{1376}{571.7}{HLJ15108(KY486157)China}
\Lf{1375}{1493.3}{582.7}{◆ HN-2-VP5}
\Tx{1376}{592.7}{SD22(DQ141675)China}
\Lf{1375}{1495}{603.3}{98D02512(AF311892)USA}
\Tx{1380}{614}{◆ HN-5-VP5}
\Lf{1375}{1495}{624}{B2-2(D31965)Japan}
\Tx{1380}{634.3}{◆ HN-3-VP5}
\Tx{1376}{644.3}{SDLY08(FJ172547)china}
\Lf{1375}{1495}{655.7}{LN1402(KU645511)China}
\Tx{1376}{665.7}{HN1405(KU645520)China}
\Lf{1375}{1495}{676.7}{SD1512(KU645506)China}
\Tx{1380}{686.7}{◆ HN-6-VP5}
\Lf{1375}{1495}{696.7}{HA4(DQ124954)China}
\Tx{1376}{707.3}{RS-BR-15(KY024579.1)Brazil}
\Tx{1376}{718.3}{Del-Ros(AF315470.1)USA}
\Tx{1380}{729}{◆ HN-9-VP5}
\Hz{1375}{1495}{753.3}
\Vt{1495}{739.3}{780.7}
\Tx{1496}{739.3}{TR20(AB027470)Japan}
\Lf{1495}{1615}{749}{GD-K-12(KF224955.1)China}
\Lf{1495}{1615}{759.3}{TJBD40(AY846844.1)China}
\Lf{1495}{1615}{770}{SD15(KX811526)china}
\Lf{1495}{1615}{780.7}{isolate 18(KJ728827)china taiwan}
\Lf{1375}{1495}{791}{AH4(DQ124956.1)China}
\Tx{1376}{801}{L14767.1(L14767.1)USA}
\Tx{1376}{811.7}{CIAVV89-69(JF507715)Korea}
\Tx{1380}{822.3}{◆ HN-10-VP5}
\Hz{1375}{1495}{839}
\Vt{1495}{832.7}{843.3}
\Tx{1496}{832.7}{CIAV Mouse(KU645525)china}
\Lf{1495}{1615}{843.3}{JN1503(KU643034)China}
\Lf{1375}{1495}{854}{◆ HN-1-VP5}
\Tx{1376}{863.3}{SMSC-1(AF285882)Malaysia}
\Tx{1376}{874}{GD-1-12(JX260426)china}
\Tx{1380}{885}{◆ HN-8-VP5}
\Hz{1375}{1405}{905}
\Vt{1405}{895.7}{914.3}
\Lf{1405}{1495}{895.7}{704(U65434)Australia}
\Hz{1405}{1495}{914.3}
\Vt{1495}{906}{926}
\Lf{1495}{1615}{906}{3-1P60(AY040652)Malaysia}
\Lf{1496.7}{1615}{916.7}{Cux-1(M55936.1)USA}
\Tx{1498}{926}{SMSC-1P60(AF390102.1)Malaysia}
\Lf{1375}{1495}{936.7}{HN1504(KU645512)china}
\Tx{1380}{947.3}{◆ HN-4-VP5}
\Tx{1376}{957.7}{C369(AB046590)Japan}
\Tx{1380}{968.3}{◆ HN-11-VP5}
\Tx{1380}{978.3}{◆ HN-12-VP5}
\Vt{1375}{540.7}{980}
\Hz{1315}{1375}{920.7}
\Lf{1315}{1615}{989.3}{LY-1(KX447656.1)China}
\Vt{1315}{920.7}{989.3}
\Sbar{1353}{1425}{1005}{0.005}
\Bs{1486.7}{757.3}{54}\Bs{1488.3}{770.7}{81}\Bs{1486.7}{842.3}{56}\Bs{1396}{909.3}{48}
\Bs{1486.7}{918.3}{56}\Bs{1488.3}{926}{51}
\Bs{1371}{544}{0}\Bs{1371}{593}{4}\Bs{1371}{613}{4}\Bs{1371}{626}{4}\Bs{1371}{647}{4}
\Bs{1371}{687}{4}\Bs{1371}{698}{4}\Bs{1371}{753}{0}\Bs{1371}{793}{4}\Bs{1371}{835}{4}
\Bs{1371}{855}{4}\Bs{1371}{900}{1}\Bs{1371}{947}{4}
\end{scope}
\end{tikzpicture}
\end{document}
